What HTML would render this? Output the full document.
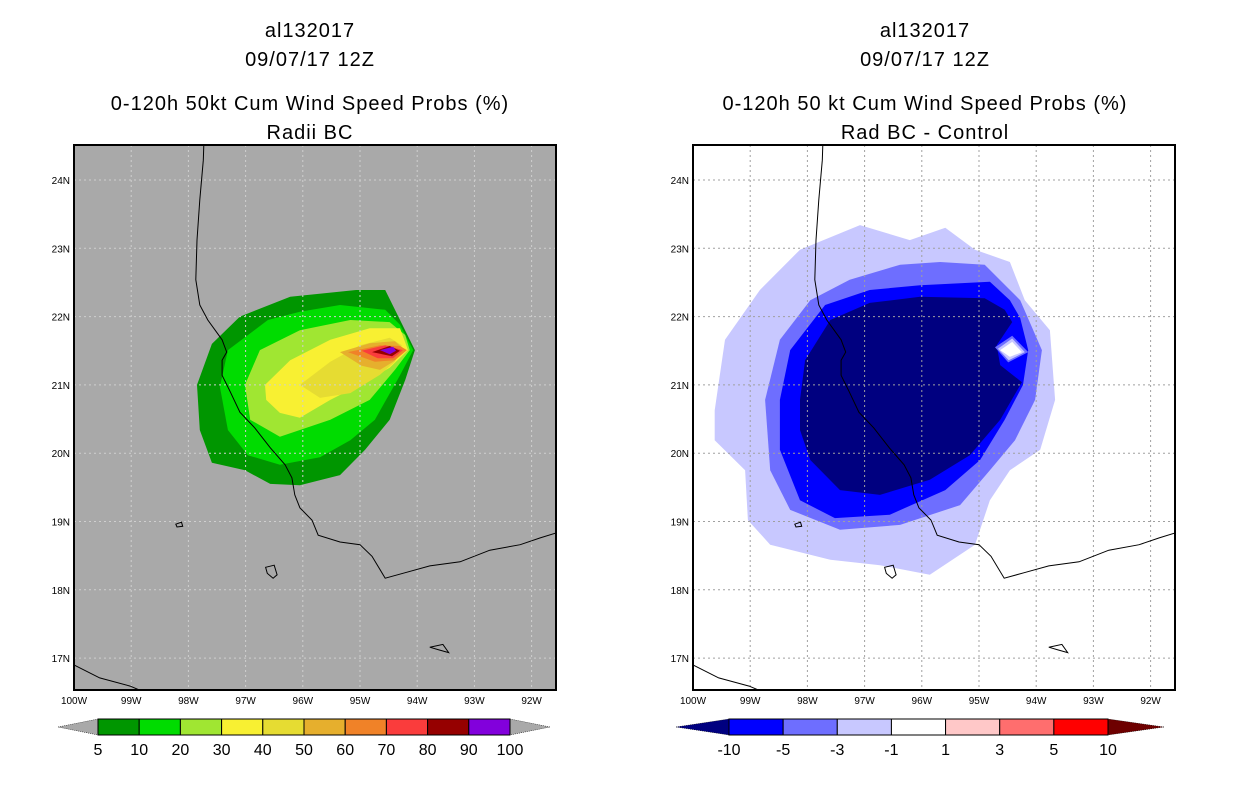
<!DOCTYPE html>
<html><head><meta charset="utf-8"><style>
html,body{margin:0;padding:0;background:#fff;}
svg text{font-family:"Liberation Sans",sans-serif;}
</style></head><body>
<svg id="chart" width="1236" height="800" viewBox="0 0 1236 800" xmlns="http://www.w3.org/2000/svg"></svg>
<script>
// ---- data ----
const lonTicks = [-100,-99,-98,-97,-96,-95,-94,-93,-92];
const latTicks = [17,18,19,20,21,22,23,24];
const leftLevels = ['5','10','20','30','40','50','60','70','80','90','100'];
const leftColors = ['#009600','#00dc00','#a0e632','#f8f032','#e6dc32','#e6af2d','#f08228','#fa3c3c','#960000','#8200dc'];
const rightLevels = ['-10','-5','-3','-1','1','3','5','10'];
const rightColors = ['#0000ff','#6e6eff','#c8c8ff','#ffffff','#ffc8c8','#ff6e6e','#ff0000'];
const rightTipColors = ['#000080','#6e0000'];
// contour polygons [lon,lat]
const leftContours = [
 {c:0,p:[[-97.85,21.0],[-97.59,21.6],[-97.10,22.0],[-96.22,22.29],[-95.07,22.39],[-94.56,22.39],[-94.13,21.66],[-94.04,21.51],[-94.21,21.07],[-94.48,20.49],[-94.91,20.05],[-95.35,19.68],[-96.05,19.53],[-96.57,19.55],[-97.01,19.75],[-97.59,19.86],[-97.80,20.34]]},
 {c:1,p:[[-97.45,20.97],[-97.31,21.51],[-96.61,21.95],[-96.05,22.07],[-95.35,22.17],[-94.56,22.10],[-94.30,21.88],[-94.07,21.51],[-94.30,21.14],[-94.74,20.49],[-95.17,20.19],[-95.70,19.94],[-96.40,19.83],[-96.96,19.97],[-97.31,20.34]]},
 {c:2,p:[[-97.01,21.0],[-96.75,21.51],[-96.05,21.80],[-95.17,21.95],[-94.48,21.92],[-94.21,21.73],[-94.13,21.51],[-94.39,21.22],[-94.83,20.78],[-95.52,20.49],[-96.40,20.24],[-96.92,20.49]]},
 {c:3,p:[[-96.66,21.0],[-96.22,21.36],[-95.52,21.66],[-94.83,21.83],[-94.30,21.83],[-94.16,21.51],[-94.48,21.25],[-95.0,21.0],[-95.52,20.78],[-96.05,20.52],[-96.40,20.59],[-96.64,20.78]]},
 {c:4,p:[[-96.05,21.0],[-95.52,21.34],[-95.0,21.58],[-94.48,21.69],[-94.27,21.58],[-94.39,21.34],[-94.65,21.15],[-95.17,20.88],[-95.70,20.81]]},
 {c:5,p:[[-95.35,21.48],[-94.83,21.61],[-94.39,21.64],[-94.21,21.51],[-94.42,21.34],[-94.65,21.22],[-94.97,21.28]]},
 {c:6,p:[[-95.21,21.48],[-94.65,21.58],[-94.30,21.57],[-94.18,21.51],[-94.39,21.36],[-94.74,21.34]]},
 {c:7,p:[[-94.97,21.50],[-94.56,21.58],[-94.25,21.51],[-94.42,21.39],[-94.69,21.39]]},
 {c:8,p:[[-94.79,21.48],[-94.48,21.57],[-94.30,21.50],[-94.44,21.42]]},
 {c:9,p:[[-94.65,21.51],[-94.42,21.56],[-94.37,21.50],[-94.48,21.45]]}
];
const rightContours = [
 {col:'#c8c8ff',p:[[-99.62,20.63],[-99.44,21.66],[-98.83,22.39],[-98.13,22.98],[-97.08,23.34],[-96.21,23.12],[-95.59,23.30],[-95.07,22.98],[-94.46,22.80],[-94.20,22.24],[-93.76,21.80],[-93.67,20.78],[-93.93,20.05],[-94.46,19.75],[-94.81,19.31],[-95.07,18.66],[-95.86,18.22],[-96.73,18.36],[-97.60,18.44],[-98.65,18.66],[-99.04,19.02],[-99.09,19.75],[-99.62,20.19]]},
 {col:'#6e6eff',p:[[-98.74,20.78],[-98.48,21.66],[-97.95,22.24],[-97.26,22.54],[-96.38,22.76],[-95.68,22.80],[-94.90,22.76],[-94.28,22.24],[-93.90,21.51],[-94.02,20.78],[-94.37,20.19],[-94.81,19.75],[-95.33,19.24],[-96.38,18.95],[-97.43,18.88],[-98.30,19.17],[-98.65,19.75]]},
 {col:'#0000ff',p:[[-98.48,20.78],[-98.30,21.51],[-97.69,22.17],[-96.91,22.39],[-96.03,22.46],[-94.81,22.51],[-94.46,22.24],[-94.28,21.98],[-94.14,21.51],[-94.23,21.0],[-94.55,20.49],[-94.98,19.90],[-95.59,19.46],[-96.56,19.10],[-97.52,19.05],[-98.13,19.31],[-98.48,20.05]]},
 {col:'#000080',p:[[-98.13,20.78],[-98.04,21.36],[-97.60,21.95],[-96.91,22.20],[-96.03,22.29],[-94.90,22.27],[-94.55,22.10],[-94.42,21.92],[-94.69,21.58],[-94.63,21.29],[-94.25,21.04],[-94.63,20.49],[-95.16,19.97],[-95.86,19.61],[-96.73,19.39],[-97.43,19.46],[-97.95,19.90],[-98.13,20.34]]},
 {col:'#6e6eff',p:[[-94.72,21.55],[-94.42,21.72],[-94.14,21.48],[-94.49,21.33]]},
 {col:'#c8c8ff',p:[[-94.67,21.53],[-94.42,21.68],[-94.20,21.48],[-94.48,21.36]]},
 {col:'#ffffff',p:[[-94.63,21.51],[-94.42,21.63],[-94.25,21.48],[-94.46,21.41]]}
];
const coast = [[-97.73,24.51],[-97.74,24.29],[-97.80,23.71],[-97.85,23.12],[-97.87,22.54],[-97.80,22.17],[-97.66,21.95],[-97.41,21.66],[-97.33,21.48],[-97.41,21.36],[-97.41,21.14],[-97.27,20.90],[-97.10,20.60],[-96.84,20.37],[-96.57,20.08],[-96.31,19.83],[-96.19,19.64],[-96.14,19.39],[-96.05,19.20],[-95.84,19.02],[-95.73,18.80],[-95.35,18.70],[-95.0,18.66],[-94.79,18.49],[-94.56,18.17],[-94.21,18.25],[-93.78,18.35],[-93.25,18.41],[-92.73,18.58],[-92.20,18.66],[-91.85,18.76],[-91.50,18.85]];
const coast2 = [[-100,16.90],[-99.55,16.71],[-99.02,16.59],[-98.76,16.50]];
const islands = [
 [[-98.22,18.96],[-98.12,18.99],[-98.10,18.93],[-98.20,18.92]],
 [[-96.65,18.33],[-96.50,18.36],[-96.45,18.22],[-96.52,18.17],[-96.62,18.24]],
 [[-93.78,17.16],[-93.55,17.20],[-93.45,17.08],[-93.62,17.12]]
];
// ---- axes ----
const Y0=145, H=545, W=482;
const lon2x = (lon, x0) => x0 + (lon + 100) * 57.2;
const lat2y = lat => 180 + (24 - lat) * 68.3;
const NS='http://www.w3.org/2000/svg';
const svg=document.getElementById('chart');
function mk(tag, attrs, parent){const e=document.createElementNS(NS,tag);for(const k in attrs)e.setAttribute(k,attrs[k]);(parent||svg).appendChild(e);return e;}
function pts(arr,x0){return arr.map(p=>lon2x(p[0],x0).toFixed(1)+','+lat2y(p[1]).toFixed(1)).join(' ');}

function panel(x0, id, bg, gridCol, contours, titles, cx){
  const defs=mk('defs',{});
  const cp=mk('clipPath',{id:'clip'+id},defs);
  mk('rect',{x:x0,y:Y0,width:W,height:H},cp);
  const g=mk('g',{'clip-path':'url(#clip'+id+')'});
  
  
  mk('rect',{x:x0,y:Y0,width:W,height:H,fill:bg},g);
  contours.forEach(c=>{
    const pg=mk('polygon',{points:pts(c.p,x0),fill:c.col!==undefined?c.col:leftColors[c.c]},g);
    
    
  });
  lonTicks.forEach(l=>{const x=lon2x(l,x0);mk('line',{x1:x,x2:x,y1:Y0,y2:Y0+H,stroke:gridCol,'stroke-width':1,'stroke-dasharray':'2,3'},g);});
  latTicks.forEach(l=>{const y=lat2y(l);mk('line',{x1:x0,x2:x0+W,y1:y,y2:y,stroke:gridCol,'stroke-width':1,'stroke-dasharray':'2,3'},g);});
  [coast,coast2].forEach(c=>{const pl=mk('polyline',{points:pts(c,x0),fill:'none',stroke:'#000','stroke-width':1},g);
    });
  islands.forEach(c=>mk('polygon',{points:pts(c,x0),fill:'none',stroke:'#000','stroke-width':1},g));
  const fr=mk('rect',{x:x0,y:Y0,width:W,height:H,fill:'none',stroke:'#000','stroke-width':2});
  
  lonTicks.forEach(l=>{const t=mk('text',{x:lon2x(l,x0),y:704,'font-size':10,'text-anchor':'middle'});t.textContent=Math.abs(l)+'W';
    });
  latTicks.forEach(l=>{const t=mk('text',{x:x0-4,y:lat2y(l)+4,'font-size':10,'text-anchor':'end'});t.textContent=l+'N';
    });
  const ys=[37,66,110,139];
  titles.forEach((s,i)=>{const t=mk('text',{x:cx,y:ys[i],'font-size':20,'text-anchor':'middle','letter-spacing':'1'});t.textContent=s;
    });
}
panel(74,'left','#a9a9a9','#cfcfcf',leftContours,['al132017','09/07/17 12Z','0-120h 50kt Cum Wind Speed Probs (%)','Radii BC'],310);
panel(693,'right','#ffffff','#a0a0a0',rightContours,['al132017','09/07/17 12Z','0-120h 50 kt Cum Wind Speed Probs (%)','Rad BC - Control'],925);

// colorbars
function colorbar(x0,x1,tipL,tipR,colors,levels,tipCols,name){
  const y0=719,y1=735,ym=727;
  const g=mk('g',{});
  
  
  const bw=(x1-x0)/colors.length;
  mk('polygon',{points:`${tipL},${ym} ${x0},${y0} ${x0},${y1}`,fill:tipCols[0],stroke:'#000','stroke-width':0.5,'stroke-dasharray':'1,1'},g);
  mk('polygon',{points:`${tipR},${ym} ${x1},${y0} ${x1},${y1}`,fill:tipCols[1],stroke:'#000','stroke-width':0.5,'stroke-dasharray':'1,1'},g);
  colors.forEach((c,i)=>{const r=mk('rect',{x:x0+i*bw,y:y0,width:bw,height:y1-y0,fill:c,stroke:'#000','stroke-width':1},g);
    });
  levels.forEach((s,i)=>{const t=mk('text',{x:x0+i*bw,y:755,'font-size':16,'text-anchor':'middle'},g);t.textContent=s;
    });
}
colorbar(98,510,58,550,leftColors,leftLevels,['#a9a9a9','#a9a9a9'],'left-colorbar');
colorbar(729,1108,676,1164,rightColors,rightLevels,rightTipColors,'right-colorbar');
</script>
</body></html>
